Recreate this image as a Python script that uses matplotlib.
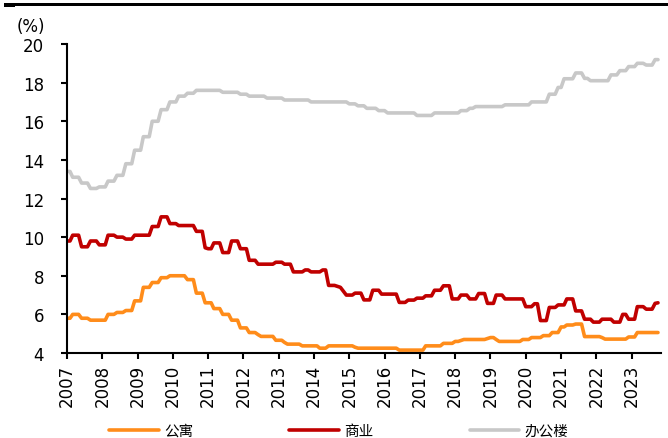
import numpy as np
import pandas as pd
import matplotlib
matplotlib.use('Agg')
import matplotlib.pyplot as plt
import matplotlib.dates as mdates
from matplotlib.patches import Rectangle

plt.rcParams['font.family'] = ['DejaVu Sans', 'Noto Sans CJK SC']

# monthly vacancy rates (%), Jan 2007 - Oct 2023, one row per year
apartment = (
    [5.8, 5.8, 6.0, 6.0, 6.0, 5.8, 5.8, 5.8, 5.7, 5.7, 5.7, 5.7] +
    [5.7, 5.7, 6.0, 6.0, 6.0, 6.1, 6.1, 6.1, 6.2, 6.2, 6.2, 6.7] +
    [6.7, 6.7, 7.4, 7.4, 7.4, 7.65, 7.65, 7.65, 7.9, 7.9, 7.9, 8.0] +
    [8.0, 8.0, 8.0, 8.0, 8.0, 7.8, 7.8, 7.8, 7.1, 7.1, 7.1, 6.6] +
    [6.6, 6.6, 6.3, 6.3, 6.3, 6.0, 6.0, 6.0, 5.7, 5.7, 5.7, 5.3] +
    [5.3, 5.3, 5.06, 5.06, 5.06, 4.95, 4.86, 4.86, 4.86, 4.86, 4.86, 4.66] +
    [4.66, 4.66, 4.55, 4.46, 4.46, 4.46, 4.46, 4.46, 4.37, 4.37, 4.37, 4.37] +
    [4.37, 4.37, 4.25, 4.25, 4.25, 4.37, 4.37, 4.37, 4.37, 4.37, 4.37, 4.37] +
    [4.37, 4.37, 4.3, 4.25, 4.25, 4.25, 4.25, 4.25, 4.25, 4.25, 4.25, 4.25] +
    [4.25, 4.25, 4.25, 4.25, 4.25, 4.15, 4.15, 4.15, 4.15, 4.15, 4.15, 4.15] +
    [4.15, 4.15, 4.37, 4.37, 4.37, 4.37, 4.37, 4.37, 4.5, 4.5, 4.5, 4.5] +
    [4.6, 4.6, 4.65, 4.7, 4.7, 4.7, 4.7, 4.7, 4.7, 4.7, 4.7, 4.75] +
    [4.8, 4.8, 4.7, 4.6, 4.6, 4.6, 4.6, 4.6, 4.6, 4.6, 4.6, 4.7] +
    [4.7, 4.7, 4.8, 4.8, 4.8, 4.8, 4.9, 4.9, 4.9, 5.06, 5.06, 5.06] +
    [5.35, 5.35, 5.45, 5.45, 5.45, 5.5, 5.5, 5.5, 4.85, 4.85, 4.85, 4.85] +
    [4.85, 4.85, 4.8, 4.72, 4.72, 4.72, 4.72, 4.72, 4.72, 4.72, 4.72, 4.83] +
    [4.83, 4.83, 5.06, 5.06, 5.06, 5.06, 5.06, 5.06, 5.06, 5.06]
)

retail = (
    [9.8, 9.8, 10.1, 10.1, 10.1, 9.5, 9.5, 9.5, 9.8, 9.8, 9.8, 9.6] +
    [9.6, 9.6, 10.1, 10.1, 10.1, 10.0, 10.0, 10.0, 9.9, 9.9, 9.9, 10.1] +
    [10.1, 10.1, 10.1, 10.1, 10.1, 10.55, 10.55, 10.55, 11.05, 11.05, 11.05, 10.7] +
    [10.7, 10.7, 10.6, 10.6, 10.6, 10.6, 10.6, 10.6, 10.3, 10.3, 10.3, 9.45] +
    [9.4, 9.4, 9.7, 9.7, 9.7, 9.2, 9.2, 9.2, 9.8, 9.8, 9.8, 9.4] +
    [9.4, 9.4, 8.8, 8.8, 8.8, 8.6, 8.6, 8.6, 8.6, 8.6, 8.6, 8.7] +
    [8.7, 8.7, 8.6, 8.6, 8.6, 8.2, 8.2, 8.2, 8.2, 8.3, 8.3, 8.2] +
    [8.2, 8.2, 8.2, 8.3, 8.3, 7.5, 7.5, 7.5, 7.45, 7.4, 7.2, 7.0] +
    [7.0, 7.0, 7.1, 7.1, 7.1, 6.75, 6.75, 6.75, 7.25, 7.25, 7.25, 7.05] +
    [7.05, 7.05, 7.05, 7.05, 7.05, 6.62, 6.62, 6.62, 6.74, 6.74, 6.74, 6.84] +
    [6.84, 6.84, 6.96, 6.96, 6.96, 7.25, 7.25, 7.25, 7.48, 7.48, 7.48, 6.8] +
    [6.8, 6.8, 7.0, 7.0, 7.0, 6.8, 6.8, 6.8, 7.08, 7.08, 7.08, 6.57] +
    [6.57, 6.57, 7.0, 7.0, 7.0, 6.8, 6.8, 6.8, 6.8, 6.8, 6.8, 6.8] +
    [6.4, 6.4, 6.4, 6.55, 6.55, 5.68, 5.68, 5.68, 6.36, 6.36, 6.36, 6.49] +
    [6.49, 6.49, 6.8, 6.8, 6.8, 6.18, 6.18, 6.18, 5.75, 5.75, 5.75, 5.6] +
    [5.6, 5.6, 5.75, 5.75, 5.75, 5.75, 5.6, 5.6, 5.6, 6.0, 6.0, 5.75] +
    [5.75, 5.75, 6.4, 6.4, 6.4, 6.27, 6.27, 6.27, 6.57, 6.6]
)

office = (
    [13.4, 13.4, 13.1, 13.1, 13.1, 12.8, 12.8, 12.8, 12.52, 12.52, 12.52, 12.6] +
    [12.6, 12.6, 12.9, 12.9, 12.9, 13.2, 13.2, 13.2, 13.8, 13.8, 13.8, 14.5] +
    [14.5, 14.5, 15.2, 15.2, 15.2, 16.0, 16.0, 16.0, 16.6, 16.6, 16.6, 17.0] +
    [17.0, 17.0, 17.3, 17.3, 17.3, 17.45, 17.45, 17.45, 17.6, 17.6, 17.6, 17.6] +
    [17.6, 17.6, 17.6, 17.6, 17.6, 17.5, 17.5, 17.5, 17.5, 17.5, 17.5, 17.4] +
    [17.4, 17.4, 17.3, 17.3, 17.3, 17.3, 17.3, 17.3, 17.2, 17.2, 17.2, 17.2] +
    [17.2, 17.2, 17.1, 17.1, 17.1, 17.1, 17.1, 17.1, 17.1, 17.1, 17.1, 17.0] +
    [17.0, 17.0, 17.0, 17.0, 17.0, 17.0, 17.0, 17.0, 17.0, 17.0, 17.0, 17.0] +
    [16.9, 16.9, 16.9, 16.8, 16.8, 16.8, 16.67, 16.67, 16.67, 16.67, 16.55, 16.55] +
    [16.55, 16.43, 16.43, 16.43, 16.43, 16.43, 16.43, 16.43, 16.43, 16.43, 16.43, 16.3] +
    [16.3, 16.3, 16.3, 16.3, 16.3, 16.43, 16.43, 16.43, 16.43, 16.43, 16.43, 16.43] +
    [16.43, 16.43, 16.55, 16.55, 16.55, 16.67, 16.67, 16.76, 16.76, 16.76, 16.76, 16.76] +
    [16.76, 16.76, 16.76, 16.76, 16.76, 16.85, 16.85, 16.85, 16.85, 16.85, 16.85, 16.85] +
    [16.85, 16.85, 17.0, 17.0, 17.0, 17.0, 17.0, 17.0, 17.4, 17.4, 17.4, 17.75] +
    [17.75, 18.2, 18.2, 18.2, 18.2, 18.5, 18.5, 18.5, 18.22, 18.22, 18.1, 18.1] +
    [18.1, 18.1, 18.1, 18.1, 18.1, 18.4, 18.4, 18.4, 18.62, 18.62, 18.62, 18.83] +
    [18.83, 18.83, 19.0, 19.0, 19.0, 18.91, 18.91, 18.91, 19.19, 19.19]
)

labels = ['公寓', '商业', '办公楼']
colors = ['#FF8C1A', '#C00000', '#C8C8C8']
dates = pd.date_range('2007-01-01', periods=len(office), freq='MS')

fig = plt.figure(figsize=(6.68, 4.39), dpi=100)
ax = fig.add_axes([0.1003, 0.1936, 0.8892, 0.7039])

for series, lab, col in zip([apartment, retail, office], labels, colors):
    ax.plot(dates, series, color=col, lw=2.6, label=lab,
            solid_joinstyle='round', solid_capstyle='round')

ax.set_ylim(4, 20)
ax.set_yticks(np.arange(4, 21, 2))
ax.set_xlim(dates[0], pd.Timestamp('2023-11-01'))
ax.xaxis.set_major_locator(mdates.YearLocator())
ax.xaxis.set_major_formatter(mdates.DateFormatter('%Y'))

for s in ['top', 'right']:
    ax.spines[s].set_visible(False)
for s in ['left', 'bottom']:
    ax.spines[s].set_linewidth(1.5)
ax.tick_params(axis='y', direction='out', length=4.5, width=1.5, pad=12, labelsize=12)
ax.tick_params(axis='x', direction='out', length=4.5, width=1.5, pad=3, labelsize=12,
               labelrotation=90)

fig.text(31 / 668, 1 - 27 / 439, '(%)', ha='center', va='center', fontsize=12)

# header bar
fig.add_artist(Rectangle((5 / 668, 1 - 6.7 / 439), 1, 2.7 / 439, transform=fig.transFigure,
                         color='black', lw=0))
fig.add_artist(Rectangle((4 / 668, 1 - 8.3 / 439), 11 / 668, 4.3 / 439, transform=fig.transFigure,
                         color='black', lw=0))

fig.legend(loc='center', bbox_to_anchor=(0.507, 0.016), ncol=3, frameon=False,
           prop={'family': 'Noto Sans CJK SC', 'size': 10.5},
           handlelength=3.4, handletextpad=0.35, columnspacing=6.6, borderpad=0)

fig.savefig('out.png', dpi=100)
